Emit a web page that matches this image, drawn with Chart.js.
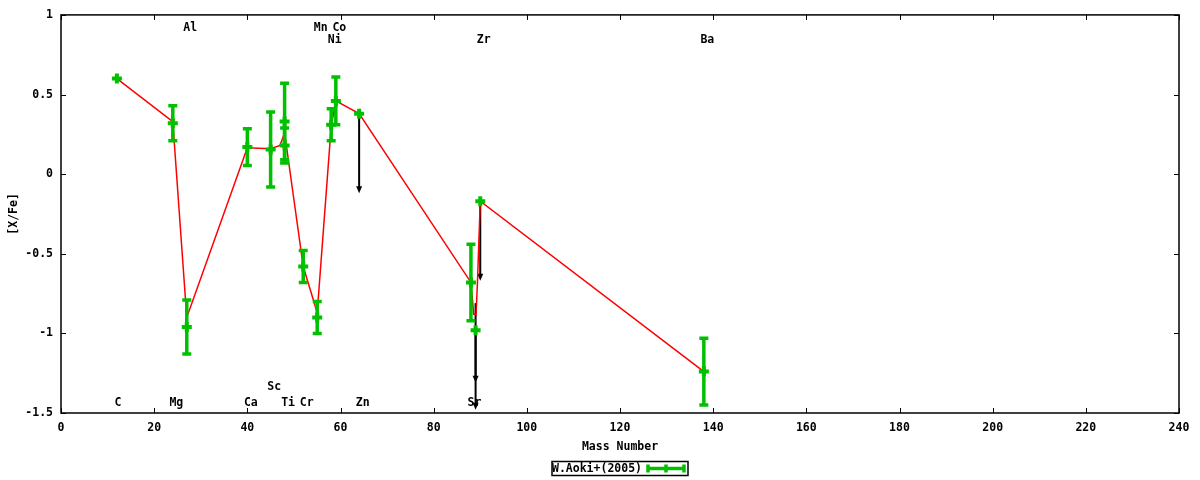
<!DOCTYPE html>
<html>
<head>
<meta charset="utf-8">
<title>[X/Fe] vs Mass Number</title>
<script src="https://cdn.jsdelivr.net/npm/chart.js@4.4.1/dist/chart.umd.min.js"></script>
<style>
html, body { margin: 0; padding: 0; background: #fff; }
</style>
</head>
<body>
<canvas id="abund-chart" width="1200" height="480"></canvas>
<script>
// observed abundances, W.Aoki+(2005)
var massNumber = [12, 24, 27, 40, 45, 48, 48, 52, 55, 58, 59, 64, 88, 89, 90, 138];
var xFe =        [0.60, 0.32, -0.96, 0.17, 0.155, 0.33, 0.18, -0.58, -0.90, 0.31, 0.46, 0.38, -0.68, -0.98, -0.17, -1.24];
var xFeErr =     [0, 0.11, 0.17, 0.115, 0.235, 0.24, 0.11, 0.10, 0.10, 0.10, 0.15, 0, 0.24, 0, 0, 0.21];

// red line
var lineMass  = [12, 24, 27, 40, 45, 47, 48, 52, 55, 58, 59, 64, 88, 88.6, 89.1, 89.4, 90, 138];
var lineValue = [0.60, 0.33, -0.90, 0.165, 0.16, 0.18, 0.26, -0.58, -0.87, 0.30, 0.46, 0.38, -0.68, -0.88, -0.88, -0.68, -0.17, -1.24];

// upper limits (black arrows)
var limitMass = [64, 90, 89, 89];
var limitFrom = [0.38, -0.17, -0.98, -0.81];
var limitTo   = [-0.12, -0.67, -1.48, -1.31];

// element names
var elemName  = ['C', 'Mg', 'Al', 'Ca', 'Sc', 'Ti', 'Cr', 'Mn', 'Co', 'Ni', 'Zn', 'Sr', 'Zr', 'Ba'];
var elemMass  = [12, 24, 27, 40, 45, 48, 52, 55, 59, 58, 64, 88, 90, 138];
var elemLevel = [-1.435, -1.435, 0.92, -1.435, -1.335, -1.435, -1.435, 0.92, 0.92, 0.845, -1.435, -1.435, 0.845, 0.845];

var xTicks = [0, 20, 40, 60, 80, 100, 120, 140, 160, 180, 200, 220, 240];
var yTicks = [-1.5, -1, -0.5, 0, 0.5, 1];

var GREEN = '#00c000';
var FONT = { family: '"DejaVu Sans Mono", monospace', size: 11.5, weight: 'bold' };
var fontStr = 'bold 11.5px "DejaVu Sans Mono", monospace';

var gnuplotFrame = {
    id: 'gnuplotFrame',
    beforeDatasetsDraw: function(chart) {
        var ctx = chart.ctx, a = chart.chartArea;
        var xs = chart.scales.x, ys = chart.scales.y;
        ctx.save();
        ctx.strokeStyle = '#000';
        ctx.lineWidth = 1.5;
        ctx.strokeRect(a.left, a.top, a.right - a.left, a.bottom - a.top);
        ctx.lineWidth = 1;
        ctx.beginPath();
        xTicks.forEach(function(v) {
            var px = Math.round(xs.getPixelForValue(v)) + 0.5;
            ctx.moveTo(px, a.bottom); ctx.lineTo(px, a.bottom - 5);
            ctx.moveTo(px, a.top); ctx.lineTo(px, a.top + 5);
        });
        yTicks.forEach(function(v) {
            var py = Math.round(ys.getPixelForValue(v)) + 0.5;
            ctx.moveTo(a.left, py); ctx.lineTo(a.left + 5, py);
            ctx.moveTo(a.right, py); ctx.lineTo(a.right - 5, py);
        });
        ctx.stroke();

        // arrows for upper limits
        ctx.strokeStyle = '#000';
        ctx.fillStyle = '#000';
        ctx.lineWidth = 2;
        for (var i = 0; i < limitMass.length; i++) {
            var px = xs.getPixelForValue(limitMass[i]);
            var y0 = ys.getPixelForValue(limitFrom[i]);
            var y1 = ys.getPixelForValue(limitTo[i]);
            ctx.beginPath();
            ctx.moveTo(px, y0); ctx.lineTo(px, y1 - 4);
            ctx.stroke();
            ctx.beginPath();
            ctx.moveTo(px - 3, y1 - 7);
            ctx.lineTo(px + 3, y1 - 7);
            ctx.lineTo(px, y1);
            ctx.closePath();
            ctx.fill();
        }
        ctx.restore();
    },
    afterDatasetsDraw: function(chart) {
        var ctx = chart.ctx, a = chart.chartArea;
        var xs = chart.scales.x, ys = chart.scales.y;
        ctx.save();
        // error bars
        ctx.strokeStyle = GREEN;
        ctx.lineWidth = 3.5;
        for (var i = 0; i < massNumber.length; i++) {
            if (!xFeErr[i]) continue;
            var px = xs.getPixelForValue(massNumber[i]);
            var yHi = ys.getPixelForValue(xFe[i] + xFeErr[i]);
            var yLo = ys.getPixelForValue(xFe[i] - xFeErr[i]);
            ctx.beginPath();
            ctx.moveTo(px, yHi); ctx.lineTo(px, yLo);
            ctx.moveTo(px - 4.5, yHi); ctx.lineTo(px + 4.5, yHi);
            ctx.moveTo(px - 4.5, yLo); ctx.lineTo(px + 4.5, yLo);
            ctx.stroke();
        }

        // element names
        ctx.fillStyle = '#000';
        ctx.font = fontStr;
        ctx.textAlign = 'center';
        ctx.textBaseline = 'middle';
        for (var j = 0; j < elemName.length; j++) {
            var off = elemName[j].length > 1 ? 3.5 : 1;
            ctx.fillText(elemName[j], xs.getPixelForValue(elemMass[j]) + off, ys.getPixelForValue(elemLevel[j]));
        }

        // key box
        var cx = (a.left + a.right) / 2, ky = 468.5;
        ctx.strokeStyle = '#000';
        ctx.lineWidth = 1.5;
        ctx.strokeRect(cx - 68, ky - 7, 136, 14);
        ctx.textAlign = 'right';
        ctx.fillText(chart.data.datasets[0].label, cx + 22, ky + 0.5);
        ctx.strokeStyle = GREEN;
        ctx.lineWidth = 3.5;
        ctx.beginPath();
        ctx.moveTo(cx + 28, ky); ctx.lineTo(cx + 64, ky);
        ctx.moveTo(cx + 28, ky - 4); ctx.lineTo(cx + 28, ky + 4);
        ctx.moveTo(cx + 64, ky - 4); ctx.lineTo(cx + 64, ky + 4);
        ctx.moveTo(cx + 46, ky - 4); ctx.lineTo(cx + 46, ky + 4);
        ctx.stroke();
        ctx.restore();
    }
};

var ctx = document.getElementById('abund-chart').getContext('2d');
var chart = new Chart(ctx, {
    type: 'scatter',
    data: {
        datasets: [{
            label: 'W.Aoki+(2005)',
            data: massNumber.map(function(m, i) { return { x: m, y: xFe[i] }; }),
            showLine: false,
            pointStyle: 'cross',
            pointRadius: 5,
            pointBorderWidth: 4,
            borderColor: GREEN,
            backgroundColor: GREEN
        }, {
            label: 'line',
            data: lineMass.map(function(m, i) { return { x: m, y: lineValue[i] }; }),
            showLine: true,
            borderColor: '#ff0000',
            borderWidth: 1.5,
            pointRadius: 0,
            tension: 0
        }]
    },
    options: {
        responsive: false,
        animation: false,
        layout: { padding: { top: 13, right: 21, bottom: 26, left: 0 } },
        plugins: {
            legend: { display: false },
            tooltip: { enabled: false }
        },
        scales: {
            x: {
                type: 'linear',
                min: 0,
                max: 240,
                afterBuildTicks: function(s) { s.ticks = xTicks.map(function(v) { return { value: v }; }); },
                afterFit: function(s) { s.height = 41; },
                ticks: { font: FONT, color: '#000', padding: 8, maxRotation: 0, autoSkip: false },
                grid: { display: false, drawTicks: false },
                border: { display: false },
                title: { display: true, text: 'Mass Number', font: FONT, color: '#000', padding: { top: 0, bottom: 0 } }
            },
            y: {
                type: 'linear',
                min: -1.5,
                max: 1,
                afterBuildTicks: function(s) { s.ticks = yTicks.map(function(v) { return { value: v }; }); },
                afterFit: function(s) { s.width = 61; },
                ticks: {
                    font: FONT, color: '#000', padding: 8,
                    callback: function(v) { return String(v); }
                },
                grid: { display: false, drawTicks: false },
                border: { display: false },
                title: { display: true, text: '[X/Fe]', font: FONT, color: '#000', padding: { top: 7, bottom: 0 } }
            }
        }
    },
    plugins: [gnuplotFrame]
});
</script>
</body>
</html>
